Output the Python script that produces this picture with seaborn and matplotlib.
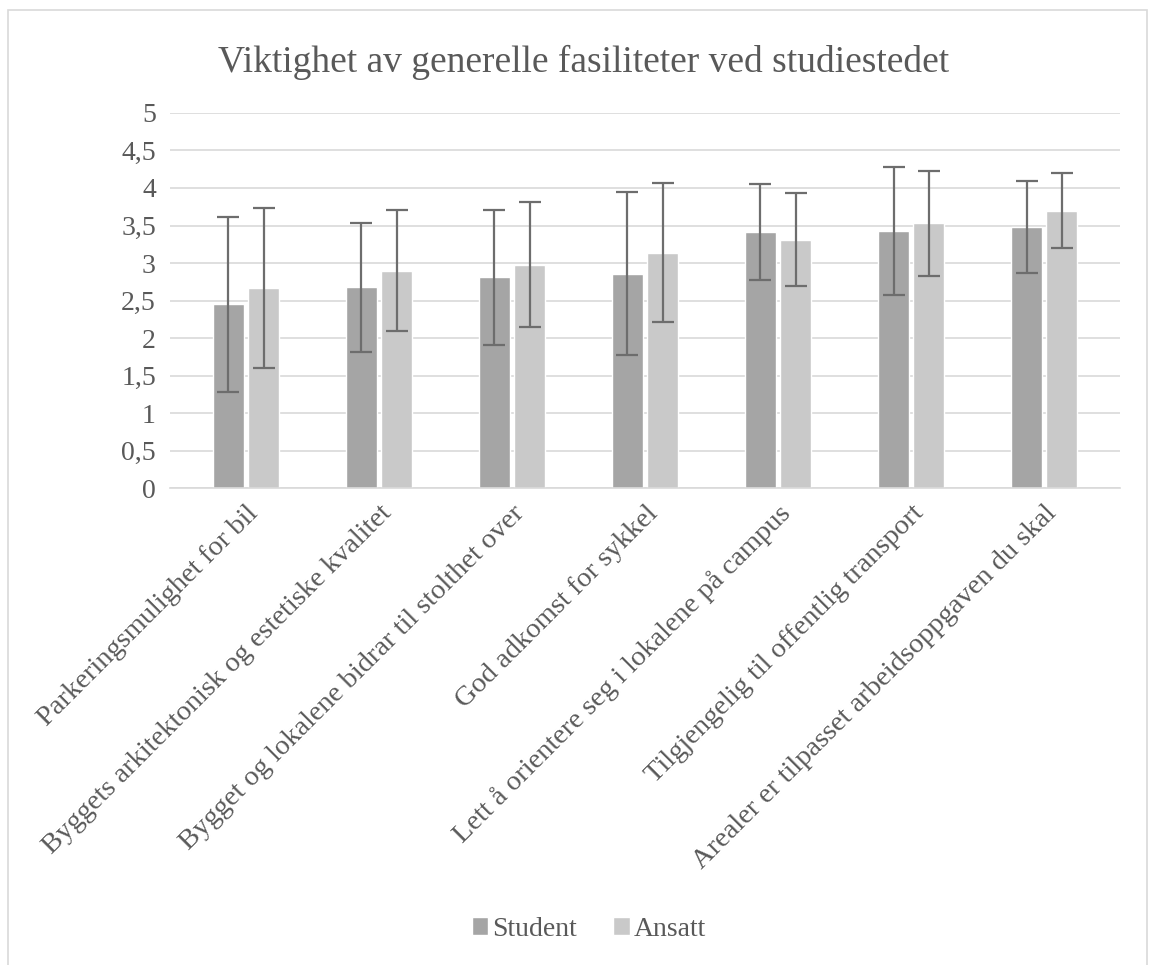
import numpy as np
import pandas as pd
import matplotlib
matplotlib.use("Agg")
import matplotlib.pyplot as plt
import seaborn as sns
from matplotlib.patches import Rectangle
from matplotlib.ticker import FuncFormatter

# Data
categories = [
    "Parkeringsmulighet for bil",
    "Byggets arkitektonisk og estetiske kvalitet",
    "Bygget og lokalene bidrar til stolthet over",
    "God adkomst for sykkel",
    "Lett å orientere seg i lokalene på campus",
    "Tilgjengelig til offentlig transport",
    "Arealer er tilpasset arbeidsoppgaven du skal",
]
student_mean = [2.45, 2.68, 2.81, 2.86, 3.41, 3.43, 3.48]
student_sd = [1.17, 0.86, 0.90, 1.08, 0.64, 0.85, 0.61]
ansatt_mean = [2.67, 2.90, 2.98, 3.14, 3.31, 3.53, 3.70]
ansatt_sd = [1.07, 0.81, 0.83, 0.93, 0.62, 0.70, 0.50]
groups = ["Student", "Ansatt"]

ds = pd.DataFrame({
    "kategori": categories * 2,
    "gruppe": ["Student"] * 7 + ["Ansatt"] * 7,
    "snitt": student_mean + ansatt_mean,
    "sd": student_sd + ansatt_sd,
})

sns.set_style("white")
plt.rcParams["font.family"] = ["Liberation Serif", "DejaVu Serif"]

fig = plt.figure(figsize=(11.55, 9.65), dpi=100)
ax = fig.add_axes([0.147, 0.494, 0.823, 0.389])

sns.barplot(data=ds, x="kategori", y="snitt", hue="gruppe", hue_order=groups,
            palette=["#a5a5a5", "#c9c9c9"], width=0.53, gap=0.13,
            errorbar=None, ax=ax, legend=True)

# error bars at the bar centres
for cont, grp in zip(ax.containers, groups):
    sub = ds[ds["gruppe"] == grp]
    xs = [p.get_x() + p.get_width() / 2 for p in cont.patches]
    ax.errorbar(xs, sub["snitt"], yerr=sub["sd"], fmt="none",
                ecolor="#6d6d6d", elinewidth=1.6, capsize=8, capthick=1.6, zorder=5)

ax.set_ylim(0, 5)
ax.set_yticks(np.arange(0, 5.01, 0.5))
ax.yaxis.set_major_formatter(FuncFormatter(lambda v, p: f"{v:g}".replace(".", ",")))
ax.grid(axis="y", color="#d9d9d9", linewidth=1.2)
ax.set_axisbelow(True)
for s in ["top", "right", "left"]:
    ax.spines[s].set_visible(False)
ax.spines["bottom"].set_color("#d9d9d9")
ax.spines["bottom"].set_linewidth(1.2)
ax.set_xlabel("")
ax.set_ylabel("")
ax.tick_params(axis="y", labelsize=20, labelcolor="#595959", length=0, pad=10)
ax.tick_params(axis="x", labelsize=20.5, labelcolor="#595959", length=0, pad=9)
plt.setp(ax.get_xticklabels(), rotation=45, ha="right", rotation_mode="anchor")

fig.suptitle("Viktighet av generelle fasiliteter ved studiestedet",
             x=0.505, y=0.954, fontsize=27, color="#595959")

handles, labels = ax.get_legend_handles_labels()
fig.legend(handles, labels, loc="center", bbox_to_anchor=(0.51, 0.037),
           ncol=2, frameon=False, fontsize=20, labelcolor="#595959",
           handlelength=0.6, handleheight=0.65, handletextpad=0.15, columnspacing=1.3)
ax.get_legend().remove()

fig.patches.append(Rectangle((0.007, -0.01), 0.986, 1.0, transform=fig.transFigure,
                             fill=False, edgecolor="#d9d9d9", linewidth=1.2))

fig.savefig("out.png", dpi=100, facecolor="white")
